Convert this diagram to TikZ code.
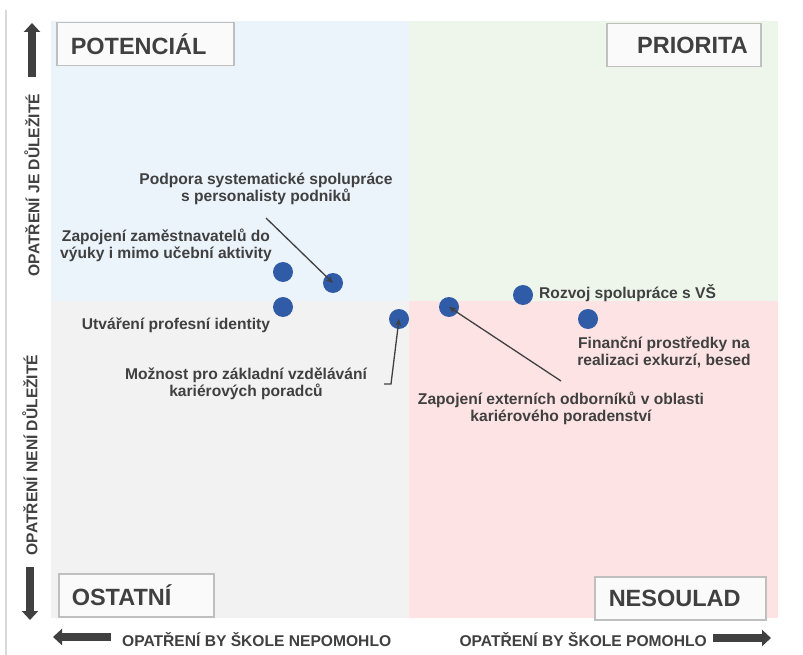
\documentclass[tikz,border=0pt]{standalone}
\usepackage{fontspec}
\setmainfont{Liberation Sans}
\usetikzlibrary{arrows.meta}
\definecolor{qblue}{HTML}{EBF3FB}
\definecolor{qgreen}{HTML}{EEF6EC}
\definecolor{qgray}{HTML}{F2F2F2}
\definecolor{qpink}{HTML}{FDE3E4}
\definecolor{txt}{HTML}{404040}
\definecolor{dotc}{HTML}{2F5BA7}
\definecolor{boxline}{HTML}{BFBFBF}
\definecolor{boxfill}{HTML}{FAFAFA}
\definecolor{frameline}{HTML}{D9D9D9}
\begin{document}
\begin{tikzpicture}[x=1pt,y=-1pt,
  quadbox/.style={draw=boxline, line width=1.5pt, fill=boxfill, text=txt,
    font=\bfseries\fontsize{23.5}{26}\selectfont, inner ysep=0pt,
    minimum height=43pt, anchor=north west},
  dotnode/.style={circle, fill=dotc, minimum size=20pt, inner sep=0pt},
  lbl/.style={text=txt, font=\bfseries\fontsize{15.6}{17.2}\selectfont, align=center, inner sep=0pt},
  axlbl/.style={text=txt, font=\bfseries\fontsize{15.6}{17}\selectfont, inner sep=0pt},
  conn/.style={draw=txt, line width=1.3pt, -{Stealth[length=7pt,width=6pt]}},
  bigarrow/.style={draw=txt, line width=7.5pt, -{Triangle[length=9pt,width=16pt]}}
]
\useasboundingbox (0,0) rectangle (803,655);
\fill[white] (0,0) rectangle (803,655);
% frame line
\draw[frameline, line width=1.5pt] (6,10) -- (6,655);
% quadrants
\fill[qblue]  (51,21)  rectangle (409,301);
\fill[qgreen] (409,21) rectangle (778,301);
\fill[qgray]  (51,301) rectangle (409,618);
\fill[qpink]  (409,301) rectangle (778,618);
% quadrant labels
\node[quadbox, text width=149pt, align=left, inner xsep=14pt] (pot) at (56,22) {POTENCIÁL};
\node[quadbox, text width=128pt, align=right, inner xsep=13pt] (pri) at (606,23) {PRIORITA};
\node[quadbox, text width=129pt, align=left, inner xsep=13pt] (ost) at (58,573) {OSTATNÍ};
\node[quadbox, text width=143pt, align=left, inner xsep=14pt] (nes) at (594,576) {NESOULAD};
% axis labels
\node[axlbl, rotate=90] (ayup) at (32,185) {OPATŘENÍ JE DŮLEŽITÉ};
\node[axlbl, rotate=90] (aydn) at (30,455) {OPATŘENÍ NENÍ DŮLEŽITÉ};
\node[axlbl, anchor=west] (axl) at (122,640) {OPATŘENÍ BY ŠKOLE NEPOMOHLO};
\node[axlbl, anchor=east] (axr) at (707,640) {OPATŘENÍ BY ŠKOLE POMOHLO};
% big axis arrows
\coordinate (upA) at (32,77);   \coordinate (upB) at (32,23);
\coordinate (dnA) at (30,567);  \coordinate (dnB) at (30,620);
\coordinate (lfA) at (111,637); \coordinate (lfB) at (53,637);
\coordinate (rtA) at (713,638); \coordinate (rtB) at (771,638);
\draw[bigarrow] (upA) -- (upB);
\draw[bigarrow] (dnA) -- (dnB);
\draw[bigarrow] (lfA) -- (lfB);
\draw[bigarrow] (rtA) -- (rtB);
% dots
\node[dotnode] (d1) at (283,272) {};
\node[dotnode] (d2) at (333,283) {};
\node[dotnode] (d3) at (283,307) {};
\node[dotnode] (d4) at (399,319) {};
\node[dotnode] (d5) at (449,307) {};
\node[dotnode] (d6) at (523,295) {};
\node[dotnode] (d7) at (588,319) {};
% labels
\node[lbl] (l2) at (266,189) {Podpora systematické spolupráce\\s personalisty podniků};
\node[lbl] (l1) at (166,245) {Zapojení zaměstnavatelů do\\výuky i mimo učební aktivity};
\node[lbl] (l3) at (176,325) {Utváření profesní identity};
\node[lbl] (l4) at (246,384) {Možnost pro základní vzdělávání\\kariérových poradců};
\node[lbl, anchor=west] (l6) at (539,293) {Rozvoj spolupráce s VŠ};
\node[lbl] (l7) at (664,352) {Finanční prostředky na\\realizaci exkurzí, besed};
\node[lbl] (l5) at (561,408) {Zapojení externích odborníků v oblasti\\kariérového poradenství};
% connectors
\coordinate (c2) at (266,218);
\coordinate (c4a) at (384,384);
\coordinate (c4b) at (391,384);
\coordinate (c5) at (561,381);
\draw[conn] (c2) -- (d2.center);
\draw[conn] (c4a) -- (c4b) -- (d4.center);
\draw[conn] (c5) -- (d5.center);
\end{tikzpicture}
\end{document}
